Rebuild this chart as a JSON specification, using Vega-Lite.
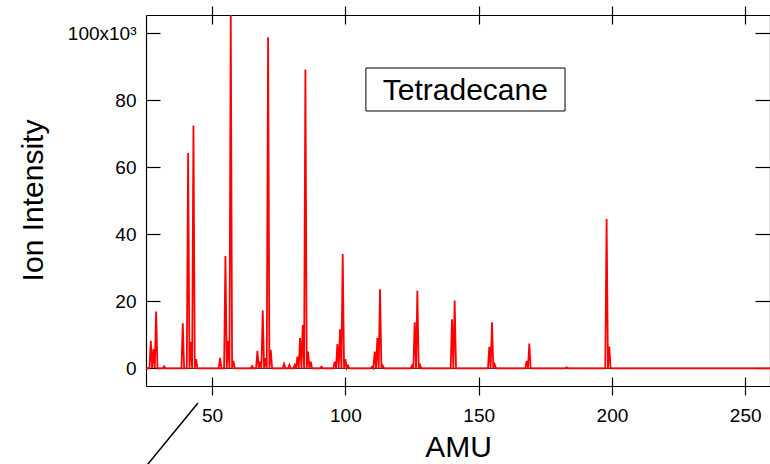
{
  "$schema": "https://vega.github.io/schema/vega-lite/v6.json",
  "width": 624,
  "height": 371,
  "autosize": {"type": "none"},
  "padding": {"left": 146, "top": 15, "right": 0, "bottom": 78},
  "background": "white",
  "config": {
    "view": {"stroke": null},
    "font": "Liberation Sans",
    "axis": {
      "domainColor": "black", "tickColor": "black", "labelColor": "black", "titleColor": "black",
      "domainWidth": 1.2, "tickWidth": 1.2, "grid": false,
      "labelFont": "Liberation Sans", "titleFont": "Liberation Sans", "titleFontWeight": "normal",
      "labelFontSize": 19, "titleFontSize": 30
    }
  },
  "datasets": {
    "spectrum": [
      {"amu": 25, "intensity": 0}, {"amu": 26.5, "intensity": 0}, {"amu": 27, "intensity": 8200}, {"amu": 27.5, "intensity": 0},
      {"amu": 28, "intensity": 5700}, {"amu": 28.5, "intensity": 0}, {"amu": 29, "intensity": 16900}, {"amu": 29.5, "intensity": 0},
      {"amu": 31.5, "intensity": 0}, {"amu": 32, "intensity": 600}, {"amu": 32.5, "intensity": 0},
      {"amu": 38.5, "intensity": 0}, {"amu": 39, "intensity": 13400}, {"amu": 39.5, "intensity": 0},
      {"amu": 40.5, "intensity": 0}, {"amu": 41, "intensity": 64200}, {"amu": 41.5, "intensity": 0},
      {"amu": 42, "intensity": 7900}, {"amu": 42.5, "intensity": 0}, {"amu": 43, "intensity": 72400}, {"amu": 43.5, "intensity": 0},
      {"amu": 44, "intensity": 2700}, {"amu": 44.5, "intensity": 0},
      {"amu": 52.5, "intensity": 0}, {"amu": 53, "intensity": 3100}, {"amu": 53.5, "intensity": 0},
      {"amu": 54.5, "intensity": 0}, {"amu": 55, "intensity": 33500}, {"amu": 55.5, "intensity": 0},
      {"amu": 56, "intensity": 8200}, {"amu": 56.5, "intensity": 0}, {"amu": 57, "intensity": 105400}, {"amu": 57.5, "intensity": 0},
      {"amu": 58, "intensity": 2200}, {"amu": 58.5, "intensity": 0},
      {"amu": 64.5, "intensity": 0}, {"amu": 65, "intensity": 700}, {"amu": 65.5, "intensity": 0},
      {"amu": 66.5, "intensity": 0}, {"amu": 67, "intensity": 5200}, {"amu": 67.5, "intensity": 0},
      {"amu": 68, "intensity": 2000}, {"amu": 68.5, "intensity": 0}, {"amu": 69, "intensity": 17200}, {"amu": 69.5, "intensity": 0},
      {"amu": 70, "intensity": 3000}, {"amu": 70.5, "intensity": 0}, {"amu": 71, "intensity": 98700}, {"amu": 71.5, "intensity": 0},
      {"amu": 72, "intensity": 5500}, {"amu": 72.5, "intensity": 0},
      {"amu": 76.5, "intensity": 0}, {"amu": 77, "intensity": 1300}, {"amu": 77.5, "intensity": 0},
      {"amu": 78.5, "intensity": 0}, {"amu": 79, "intensity": 1000}, {"amu": 79.5, "intensity": 0},
      {"amu": 80.5, "intensity": 0}, {"amu": 81, "intensity": 1000}, {"amu": 81.5, "intensity": 0},
      {"amu": 82, "intensity": 3500}, {"amu": 82.5, "intensity": 0}, {"amu": 83, "intensity": 9000}, {"amu": 83.5, "intensity": 0},
      {"amu": 84, "intensity": 12900}, {"amu": 84.5, "intensity": 0}, {"amu": 85, "intensity": 89100}, {"amu": 85.5, "intensity": 0},
      {"amu": 86, "intensity": 5000}, {"amu": 86.5, "intensity": 0}, {"amu": 87, "intensity": 2000}, {"amu": 87.5, "intensity": 0},
      {"amu": 90.5, "intensity": 0}, {"amu": 91, "intensity": 500}, {"amu": 91.5, "intensity": 0},
      {"amu": 95.5, "intensity": 0}, {"amu": 96, "intensity": 2000}, {"amu": 96.5, "intensity": 0},
      {"amu": 97, "intensity": 7200}, {"amu": 97.5, "intensity": 0}, {"amu": 98, "intensity": 11600}, {"amu": 98.5, "intensity": 0},
      {"amu": 99, "intensity": 34100}, {"amu": 99.5, "intensity": 0}, {"amu": 100, "intensity": 2700}, {"amu": 100.5, "intensity": 0},
      {"amu": 101, "intensity": 800}, {"amu": 101.5, "intensity": 0},
      {"amu": 109.5, "intensity": 0}, {"amu": 110, "intensity": 500}, {"amu": 110.5, "intensity": 0},
      {"amu": 111, "intensity": 5000}, {"amu": 111.5, "intensity": 0}, {"amu": 112, "intensity": 9000}, {"amu": 112.5, "intensity": 0},
      {"amu": 113, "intensity": 23600}, {"amu": 113.5, "intensity": 0}, {"amu": 114, "intensity": 800}, {"amu": 114.5, "intensity": 0},
      {"amu": 124.5, "intensity": 0}, {"amu": 125, "intensity": 800}, {"amu": 125.5, "intensity": 0},
      {"amu": 126, "intensity": 13700}, {"amu": 126.5, "intensity": 0}, {"amu": 127, "intensity": 23100}, {"amu": 127.5, "intensity": 0},
      {"amu": 128, "intensity": 1000}, {"amu": 128.5, "intensity": 0},
      {"amu": 139.5, "intensity": 0}, {"amu": 140, "intensity": 14600}, {"amu": 140.5, "intensity": 0},
      {"amu": 141, "intensity": 20200}, {"amu": 141.5, "intensity": 0},
      {"amu": 153.5, "intensity": 0}, {"amu": 154, "intensity": 6400}, {"amu": 154.5, "intensity": 0},
      {"amu": 155, "intensity": 13700}, {"amu": 155.5, "intensity": 0}, {"amu": 156, "intensity": 1200}, {"amu": 156.5, "intensity": 0},
      {"amu": 167.5, "intensity": 0}, {"amu": 168, "intensity": 2200}, {"amu": 168.5, "intensity": 0},
      {"amu": 169, "intensity": 7400}, {"amu": 169.5, "intensity": 0},
      {"amu": 182.5, "intensity": 0}, {"amu": 183, "intensity": 300}, {"amu": 183.5, "intensity": 0},
      {"amu": 197.5, "intensity": 0}, {"amu": 198, "intensity": 44500}, {"amu": 198.5, "intensity": 0},
      {"amu": 199, "intensity": 6500}, {"amu": 199.5, "intensity": 0},
      {"amu": 260, "intensity": 0}
    ]
  },
  "resolve": {"axis": {"x": "independent", "y": "independent"}},
  "layer": [
    {
      "data": {"name": "spectrum"},
      "mark": {"type": "point", "opacity": 0},
      "encoding": {
        "x": {"field": "amu", "type": "quantitative", "scale": {"domain": [25.2, 259.3], "nice": false, "zero": false},
          "axis": {"orient": "top", "values": [50, 100, 150, 200, 250], "tickSize": 9, "labels": false, "title": null, "domain": true}},
        "y": {"field": "intensity", "type": "quantitative", "scale": {"domain": [-5280, 105370], "nice": false, "zero": false},
          "axis": {"orient": "right", "values": [0, 20000, 40000, 60000, 80000, 100000], "tickSize": -15, "labels": false, "title": null, "domain": true}}
      }
    },
    {
      "data": {"name": "spectrum"},
      "mark": {"type": "point", "opacity": 0},
      "encoding": {
        "x": {"field": "amu", "type": "quantitative", "scale": {"domain": [25.2, 259.3], "nice": false, "zero": false},
          "axis": {"orient": "top", "values": [50, 100, 150, 200, 250], "tickSize": -9, "labels": false, "title": null, "domain": false}},
        "y": {"field": "intensity", "type": "quantitative", "scale": {"domain": [-5280, 105370], "nice": false, "zero": false}, "axis": null}
      }
    },
    {
      "data": {"name": "spectrum"},
      "mark": {"type": "point", "opacity": 0},
      "encoding": {
        "x": {"field": "amu", "type": "quantitative", "scale": {"domain": [25.2, 259.3], "nice": false, "zero": false},
          "axis": {"orient": "bottom", "values": [50, 100, 150, 200, 250], "tickSize": -9, "labels": false, "title": null, "domain": false}},
        "y": {"field": "intensity", "type": "quantitative", "scale": {"domain": [-5280, 105370], "nice": false, "zero": false}, "axis": null}
      }
    },
    {
      "data": {"values": [{"v": 0}]},
      "mark": {"type": "rule", "color": "black", "strokeWidth": 1},
      "encoding": {
        "y": {"field": "v", "type": "quantitative", "scale": {"domain": [-5280, 105370], "nice": false, "zero": false}, "axis": null}
      }
    },
    {
      "data": {"name": "spectrum"},
      "mark": {"type": "line", "color": "#ff0000", "strokeWidth": 1.8, "clip": true, "interpolate": "linear"},
      "encoding": {
        "x": {"field": "amu", "type": "quantitative", "scale": {"domain": [25.2, 259.3], "nice": false, "zero": false},
          "axis": {"orient": "bottom", "values": [50, 100, 150, 200, 250], "tickSize": 9, "labelPadding": 11, "title": "AMU",
            "titleBaseline": "alphabetic", "titleY": 70, "domain": true}},
        "y": {"field": "intensity", "type": "quantitative", "scale": {"domain": [-5280, 105370], "nice": false, "zero": false},
          "axis": {"orient": "left", "values": [0, 20000, 40000, 60000, 80000, 100000], "tickSize": -14, "labelPadding": 24,
            "labelExpr": "datum.value == 100000 ? '100x10³' : format(datum.value / 1000, 'd')",
            "title": "Ion Intensity", "titleX": -113, "titleY": 185, "titleAngle": -90, "titleBaseline": "middle", "titleAlign": "center", "domain": true}}
      }
    },
    {
      "data": {"values": [{"label": "Tetradecane"}]},
      "mark": {"type": "rect", "fill": "white", "stroke": "black", "strokeWidth": 1},
      "encoding": {
        "x": {"datum": 107.7, "type": "quantitative", "scale": {"domain": [25.2, 259.3], "nice": false, "zero": false}, "axis": null},
        "x2": {"datum": 182.4},
        "y": {"datum": 89560, "type": "quantitative", "scale": {"domain": [-5280, 105370], "nice": false, "zero": false}, "axis": null},
        "y2": {"datum": 76740}
      }
    },
    {
      "data": {"values": [{"label": "Tetradecane"}]},
      "mark": {"type": "text", "fontSize": 30, "font": "Liberation Sans", "color": "black", "align": "center", "baseline": "alphabetic"},
      "encoding": {
        "text": {"field": "label"},
        "x": {"datum": 145.0, "type": "quantitative", "scale": {"domain": [25.2, 259.3], "nice": false, "zero": false}, "axis": null},
        "y": {"datum": 80000, "type": "quantitative", "scale": {"domain": [-5280, 105370], "nice": false, "zero": false}, "axis": null}
      }
    },
    {
      "data": {"values": [{"k": 1}]},
      "mark": {"type": "rule", "color": "black", "strokeWidth": 1.5, "clip": false},
      "encoding": {
        "x": {"datum": 44.7, "type": "quantitative", "scale": {"domain": [25.2, 259.3], "nice": false, "zero": false}, "axis": null},
        "y": {"datum": -10350, "type": "quantitative", "scale": {"domain": [-5280, 105370], "nice": false, "zero": false}, "axis": null},
        "x2": {"datum": 24.1},
        "y2": {"datum": -30330}
      }
    }
  ]
}
